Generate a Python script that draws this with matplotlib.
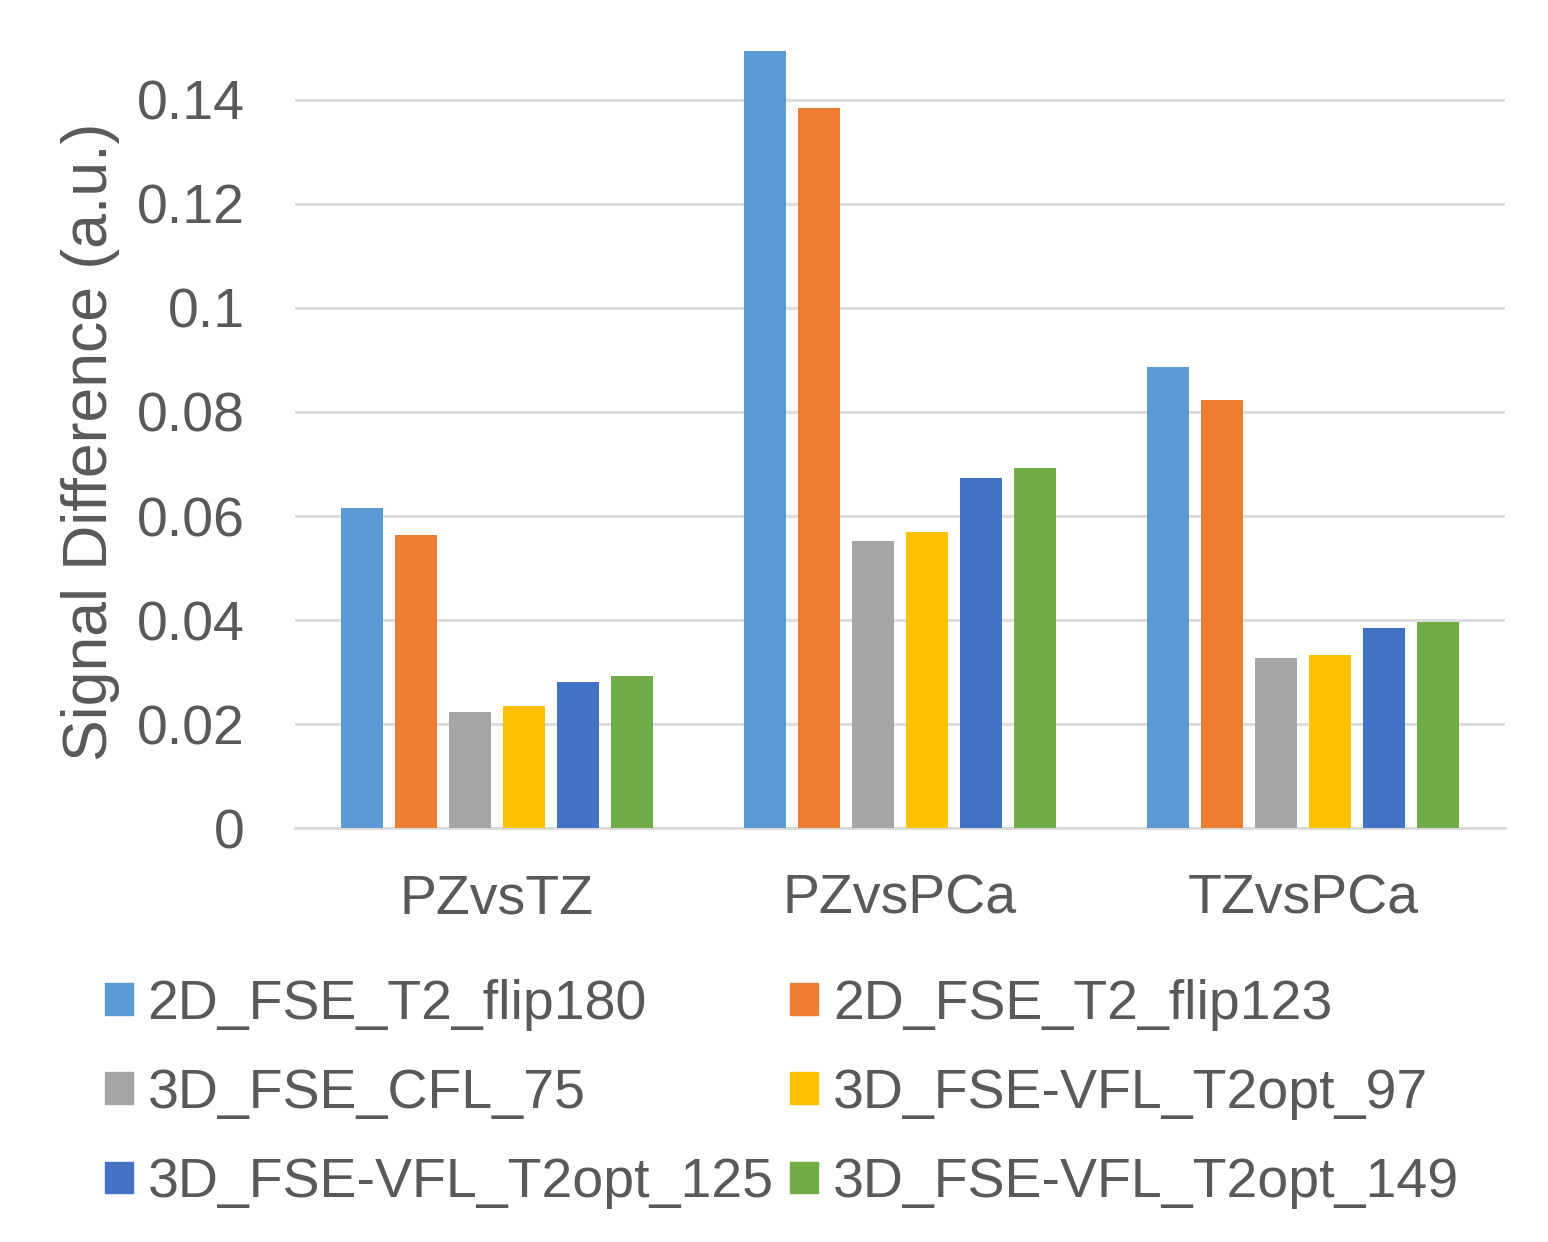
import numpy as np
import matplotlib.pyplot as plt
from matplotlib.patches import Patch

plt.rcParams['font.family'] = ['Liberation Sans', 'DejaVu Sans']

# categories and series values
groups = ['PZvsTZ', 'PZvsPCa', 'TZvsPCa']
series = ['2D_FSE_T2_flip180', '2D_FSE_T2_flip123', '3D_FSE_CFL_75',
          '3D_FSE-VFL_T2opt_97', '3D_FSE-VFL_T2opt_125', '3D_FSE-VFL_T2opt_149']
flip180 = [0.0615, 0.1494, 0.0887]
flip123 = [0.0563, 0.1385, 0.0823]
cfl75 = [0.0223, 0.0552, 0.0327]
vfl97 = [0.0235, 0.0569, 0.0333]
vfl125 = [0.0281, 0.0673, 0.0385]
vfl149 = [0.0292, 0.0692, 0.0396]
yticks = [0, 0.02, 0.04, 0.06, 0.08, 0.1, 0.12, 0.14]
ytick_labels = ['0', '0.02', '0.04', '0.06', '0.08', '0.1', '0.12', '0.14']

values = [flip180, flip123, cfl75, vfl97, vfl125, vfl149]
colors = ['#5B9BD5', '#ED7D31', '#A5A5A5', '#FFC000', '#4472C4', '#70AD47']
text_color = '#595959'

fig = plt.figure(figsize=(15.48, 12.42), dpi=100)
ax = fig.add_axes([0.1906, 0.3333, 0.7814, 0.6281])

x = np.arange(len(groups))
width = 0.104
step = 0.134
for i, (vals, col) in enumerate(zip(values, colors)):
    ax.bar(x + (i - 2.5) * step, vals, width, color=col, zorder=3)

ax.set_xlim(-0.5, len(groups) - 0.5)
ax.set_ylim(0, 0.15)
ax.set_yticks(yticks)
ax.set_yticklabels(ytick_labels)
ax.set_xticks(x)
ax.set_xticklabels(groups)
ax.tick_params(axis='both', length=0, labelsize=40, colors=text_color)
ax.tick_params(axis='x', pad=33)
ax.tick_params(axis='y', pad=36)
ax.grid(axis='y', color='#D9D9D9', linewidth=2, zorder=0)
for side in ['top', 'right', 'left']:
    ax.spines[side].set_visible(False)
ax.spines['bottom'].set_color('#D9D9D9')
ax.spines['bottom'].set_linewidth(2)
ax.set_ylabel('Signal Difference (a.u.)', fontsize=45, color=text_color)
ax.yaxis.set_label_coords(-0.169, 0.495)
ax.yaxis.label.set_verticalalignment('center')

handles = [Patch(color=c, label=s) for c, s in zip(colors, series)]
order = [0, 2, 4, 1, 3, 5]
fig.legend([handles[i] for i in order], [series[i] for i in order],
           ncol=2, loc='upper left', bbox_to_anchor=(0.0677, 0.212),
           frameon=False, fontsize=40, labelcolor=text_color,
           handlelength=0.5, handleheight=0.5, handletextpad=0.27,
           columnspacing=0.3, labelspacing=0.67, borderpad=0, borderaxespad=0)

fig.savefig('out.png', dpi=100)
